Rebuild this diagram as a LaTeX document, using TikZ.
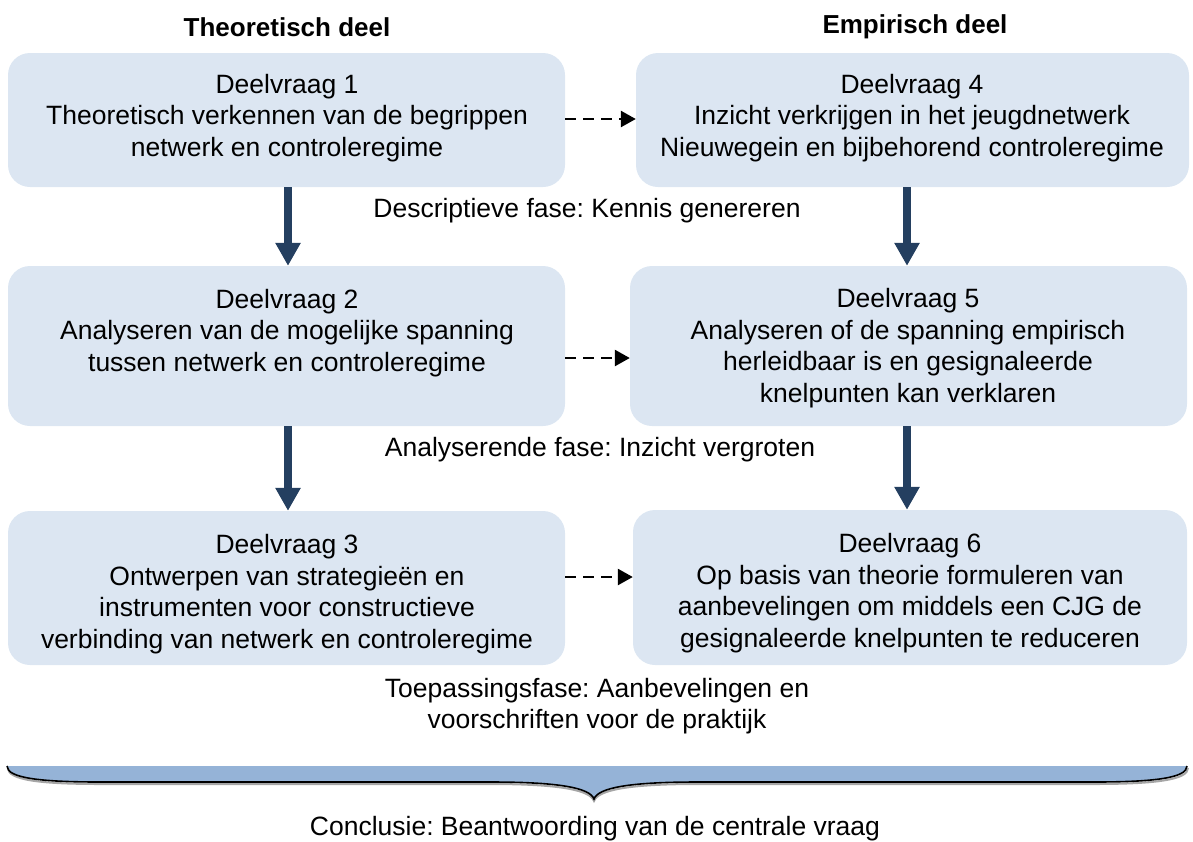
\documentclass[tikz,border=0pt]{standalone}
\usepackage{fontspec}
\setmainfont{Liberation Sans}
\frenchspacing
\usetikzlibrary{arrows.meta}
\definecolor{boxfill}{HTML}{DCE6F2}
\definecolor{flowblue}{HTML}{243F60}
\definecolor{bracefill}{HTML}{95B3D7}

\begin{document}
\begin{tikzpicture}[x=1pt,y=-1pt,
  every node/.style={font=\fontsize{26.5}{31.5}\selectfont},
  qbox/.style={fill=boxfill, rounded corners=22pt, inner sep=0pt},
  qtext/.style={align=center, inner sep=0pt},
  head/.style={font=\fontsize{26}{31}\selectfont\bfseries, inner sep=0pt},
  phase/.style={align=center, inner sep=0pt},
  flow/.style={draw=flowblue, line width=8pt, -{Triangle[length=23pt,width=24pt]}},
  link/.style={draw=black, line width=2.6pt, dash pattern=on 11pt off 7pt,
    -{Triangle[length=15pt,width=16pt]}}
]
\useasboundingbox (0,0) rectangle (1193,841);

% column headers
\node[head] (h1) at (287,27) {Theoretisch deel};
\node[head] (h2) at (915,27) {Empirisch deel};

% question boxes
\node[qbox, minimum width=557pt, minimum height=134pt] (b1) at (286.5,120) {};
\node[qbox, minimum width=553pt, minimum height=134pt] (b4) at (912.5,120) {};
\node[qbox, minimum width=557pt, minimum height=160pt] (b2) at (286.5,346) {};
\node[qbox, minimum width=557pt, minimum height=160pt] (b5) at (908.5,346) {};
\node[qbox, minimum width=557pt, minimum height=154pt] (b3) at (286.5,588) {};
\node[qbox, minimum width=554pt, minimum height=155pt] (b6) at (910,587.5) {};

% box texts
\node[qtext] (t1) at (287,118) {Deelvraag 1\\Theoretisch verkennen van de begrippen\\netwerk en controleregime};
\node[qtext] (t4) at (912,118) {Deelvraag 4\\Inzicht verkrijgen in het jeugdnetwerk\\Nieuwegein en bijbehorend controleregime};
\node[qtext] (t2) at (287,333) {Deelvraag 2\\Analyseren van de mogelijke spanning\\tussen netwerk en controleregime};
\node[qtext] (t5) at (908,348) {Deelvraag 5\\Analyseren of de spanning empirisch\\herleidbaar is en gesignaleerde\\knelpunten kan verklaren};
\node[qtext] (t3) at (287,594) {Deelvraag 3\\Ontwerpen van strategieën en\\instrumenten voor constructieve\\verbinding van netwerk en controleregime};
\node[qtext] (t6) at (910,593) {Deelvraag 6\\Op basis van theorie formuleren van\\aanbevelingen om middels een CJG de\\gesignaleerde knelpunten te reduceren};

% phase labels
\node[phase] (p1) at (587,211) {Descriptieve fase: Kennis genereren};
\node[phase] (p2) at (600,450) {Analyserende fase: Inzicht vergroten};
\node[phase] (p3) at (597,706) {Toepassingsfase: Aanbevelingen en\\voorschriften voor de praktijk};
\node[phase] (c)  at (595,829) {Conclusie: Beantwoording van de centrale vraag};

% vertical flow arrows
\draw[flow] ([xshift=1.5pt]b1.south) -- ([xshift=1.5pt]b2.north);
\draw[flow] ([xshift=1.5pt]b2.south) -- ([xshift=1.5pt]b3.north);
\draw[flow] ([xshift=-1.5pt]b5.north |- b4.south) -- ([xshift=-1.5pt]b5.north);
\draw[flow] ([xshift=-1.5pt]b5.south) -- ([xshift=-1.5pt]b5.south |- b6.north);

% dashed links from theory to empirics
\draw[link] ([yshift=1pt]b1.east) -- ([yshift=1pt]b1.east -| b4.west);
\draw[link] ([yshift=-12pt]b2.east) -- ([yshift=-12pt]b2.east -| b5.west);
\draw[link] ([yshift=11pt]b3.east) -- ([yshift=11pt]b3.east -| b6.west);

% closing brace
\fill[bracefill] (7,766) -- (1187,766)
  .. controls (1187,778) and (1154,782) .. (1094,782) -- (698,782)
  .. controls (628,782) and (598,788) .. (594,799)
  .. controls (590,788) and (560,782) .. (490,782) -- (100,782)
  .. controls (40,782) and (7,778) .. (7,766) -- cycle;
\draw[black!35, line width=2pt] (8,768)
  .. controls (8,780) and (40,784) .. (100,784) -- (490,784)
  .. controls (560,784) and (590,790) .. (594,801)
  .. controls (598,790) and (628,784) .. (698,784) -- (1094,784)
  .. controls (1154,784) and (1188,780) .. (1188,768);
\draw[black, line width=1.6pt] (7,766)
  .. controls (7,778) and (40,782) .. (100,782) -- (490,782)
  .. controls (560,782) and (590,788) .. (594,799)
  .. controls (598,788) and (628,782) .. (698,782) -- (1094,782)
  .. controls (1154,782) and (1187,778) .. (1187,766);
\end{tikzpicture}
\end{document}
